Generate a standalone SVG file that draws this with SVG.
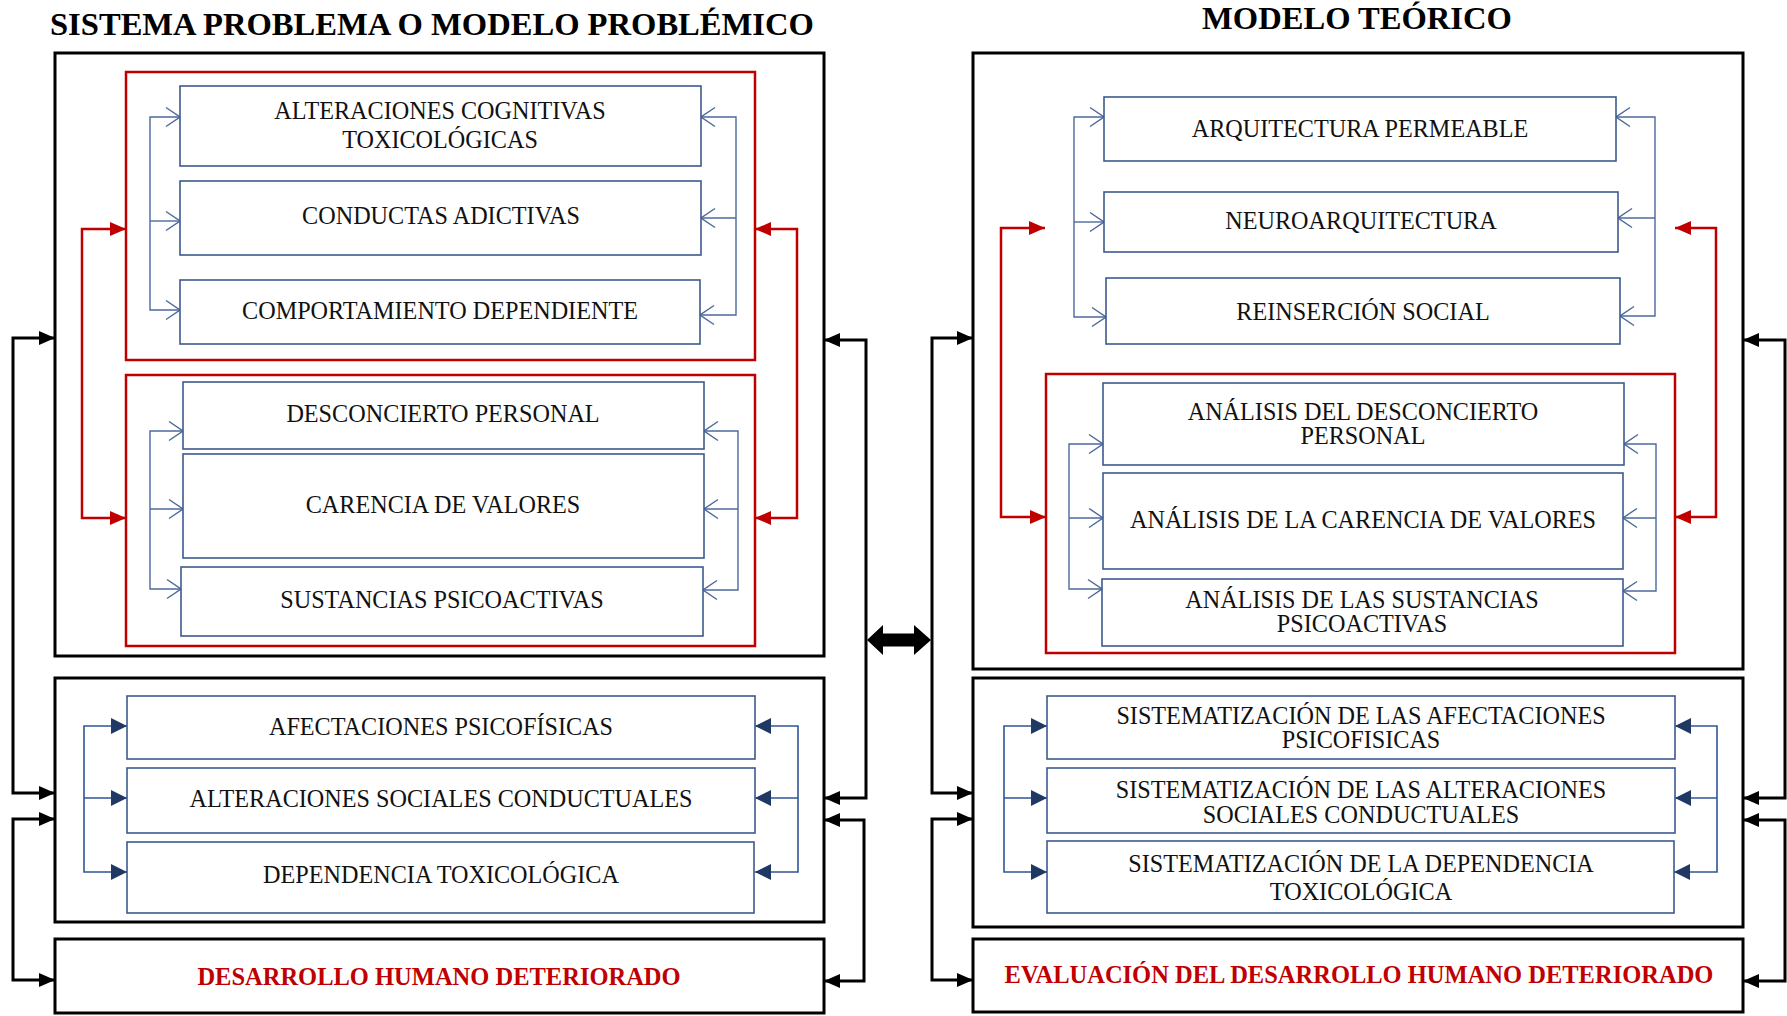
<svg xmlns="http://www.w3.org/2000/svg" width="1787" height="1016" viewBox="0 0 1787 1016">
<defs>
<style>
.bg{fill:#ffffff}
.title{font-family:"Liberation Serif","Times New Roman",serif;font-weight:bold;font-size:32.6px;fill:#000}
.t{font-family:"Liberation Serif","Times New Roman",serif;font-size:24.2px;fill:#111;text-anchor:middle}
.tr{font-family:"Liberation Serif","Times New Roman",serif;font-weight:bold;font-size:24.5px;fill:#c00000;text-anchor:middle}
.outer{fill:none;stroke:#000;stroke-width:3}
.red{fill:none;stroke:#c00000;stroke-width:2.5}
.node{fill:#fff;stroke:#3d5a8e;stroke-width:1.6}
.cb{fill:none;stroke:#4d6a9c;stroke-width:1.4}
.cbf{fill:none;stroke:#2f5597;stroke-width:1.6}
.cr{fill:none;stroke:#c00000;stroke-width:2.5}
.ck{fill:none;stroke:#000;stroke-width:3}
</style>
<marker id="mOpen" viewBox="0 0 16 22" refX="15" refY="11" markerWidth="16" markerHeight="22" markerUnits="userSpaceOnUse" orient="auto-start-reverse">
<path d="M1,1.5 L15,11 L1,20.5" fill="none" stroke="#4d6a9c" stroke-width="1.5"/>
</marker>
<marker id="mBlue" viewBox="0 0 16 16" refX="16" refY="8" markerWidth="16" markerHeight="16" markerUnits="userSpaceOnUse" orient="auto-start-reverse">
<path d="M0,0 L16,8 L0,16 z" fill="#1f3864"/>
</marker>
<marker id="mRed" viewBox="0 0 16 14" refX="16" refY="7" markerWidth="16" markerHeight="14" markerUnits="userSpaceOnUse" orient="auto-start-reverse">
<path d="M0,0 L16,7 L0,14 z" fill="#c00000"/>
</marker>
<marker id="mBlk" viewBox="0 0 16 14" refX="16" refY="7" markerWidth="16" markerHeight="14" markerUnits="userSpaceOnUse" orient="auto-start-reverse">
<path d="M0,0 L16,7 L0,14 z" fill="#000"/>
</marker>
</defs>
<rect class="bg" x="0" y="0" width="1787" height="1016"/>

<text class="title" x="50" y="35">SISTEMA PROBLEMA O MODELO PROBLÉMICO</text>
<text class="title" x="1357" y="29" text-anchor="middle">MODELO TEÓRICO</text>

<g id="containers">
<rect class="outer" x="55" y="53" width="769" height="603"/>
<rect class="red" x="126" y="72" width="629" height="288"/>
<rect class="red" x="126" y="375" width="629" height="271"/>
<rect class="outer" x="55" y="678" width="769" height="244"/>
<rect class="outer" x="973" y="53" width="770" height="616"/>
<rect class="red" x="1046" y="374" width="629" height="279"/>
<rect class="outer" x="973" y="678" width="770" height="249"/>
</g>

<g id="connectors">
<path class="cb" d="M150,221 H180" marker-end="url(#mOpen)"/>
<path class="cb" d="M180,117 H150 V310 H180" marker-start="url(#mOpen)" marker-end="url(#mOpen)"/>
<path class="cb" d="M736,218 H701" marker-end="url(#mOpen)"/>
<path class="cb" d="M701,117 H736 V315 H700" marker-start="url(#mOpen)" marker-end="url(#mOpen)"/>
<path class="cb" d="M150,509 H183" marker-end="url(#mOpen)"/>
<path class="cb" d="M183,431 H150 V589 H181" marker-start="url(#mOpen)" marker-end="url(#mOpen)"/>
<path class="cb" d="M738,509 H704" marker-end="url(#mOpen)"/>
<path class="cb" d="M704,431 H738 V590 H703" marker-start="url(#mOpen)" marker-end="url(#mOpen)"/>
<path class="cbf" d="M84,798 H127" marker-end="url(#mBlue)"/>
<path class="cbf" d="M127,726 H84 V872 H127" marker-start="url(#mBlue)" marker-end="url(#mBlue)"/>
<path class="cbf" d="M798,798 H755" marker-end="url(#mBlue)"/>
<path class="cbf" d="M755,726 H798 V872 H755" marker-start="url(#mBlue)" marker-end="url(#mBlue)"/>
<path class="cr" d="M126,229 H82 V518 H126" marker-start="url(#mRed)" marker-end="url(#mRed)"/>
<path class="cr" d="M755,229 H797 V518 H755" marker-start="url(#mRed)" marker-end="url(#mRed)"/>
<path class="ck" d="M55,338 H13 V793 H55" marker-start="url(#mBlk)" marker-end="url(#mBlk)"/>
<path class="ck" d="M55,819 H13 V980 H55" marker-start="url(#mBlk)" marker-end="url(#mBlk)"/>
<path class="ck" d="M824,340 H866 V798 H824" marker-start="url(#mBlk)" marker-end="url(#mBlk)"/>
<path class="ck" d="M824,820 H864 V981 H824" marker-start="url(#mBlk)" marker-end="url(#mBlk)"/>

<path class="cb" d="M1074,222 H1104" marker-end="url(#mOpen)"/>
<path class="cb" d="M1104,117 H1074 V317 H1106" marker-start="url(#mOpen)" marker-end="url(#mOpen)"/>
<path class="cb" d="M1655,218 H1618" marker-end="url(#mOpen)"/>
<path class="cb" d="M1616,117 H1655 V316 H1620" marker-start="url(#mOpen)" marker-end="url(#mOpen)"/>
<path class="cb" d="M1069,518 H1103" marker-end="url(#mOpen)"/>
<path class="cb" d="M1103,444 H1069 V589 H1102" marker-start="url(#mOpen)" marker-end="url(#mOpen)"/>
<path class="cb" d="M1656,518 H1623" marker-end="url(#mOpen)"/>
<path class="cb" d="M1624,444 H1656 V591 H1623" marker-start="url(#mOpen)" marker-end="url(#mOpen)"/>
<path class="cbf" d="M1004,798 H1047" marker-end="url(#mBlue)"/>
<path class="cbf" d="M1047,726 H1004 V872 H1047" marker-start="url(#mBlue)" marker-end="url(#mBlue)"/>
<path class="cbf" d="M1717,798 H1675" marker-end="url(#mBlue)"/>
<path class="cbf" d="M1675,726 H1717 V872 H1674" marker-start="url(#mBlue)" marker-end="url(#mBlue)"/>
<path class="cr" d="M1045,228 H1001 V517 H1046" marker-start="url(#mRed)" marker-end="url(#mRed)"/>
<path class="cr" d="M1675,228 H1716 V517 H1675" marker-start="url(#mRed)" marker-end="url(#mRed)"/>
<path class="ck" d="M973,338 H932 V793 H973" marker-start="url(#mBlk)" marker-end="url(#mBlk)"/>
<path class="ck" d="M973,819 H932 V980 H973" marker-start="url(#mBlk)" marker-end="url(#mBlk)"/>
<path class="ck" d="M1743,340 H1785 V798 H1743" marker-start="url(#mBlk)" marker-end="url(#mBlk)"/>
<path class="ck" d="M1743,820 H1785 V981 H1743" marker-start="url(#mBlk)" marker-end="url(#mBlk)"/>
<polygon points="867,640 883,625 883,633.5 914,633.5 914,625 931,640 914,655 914,646.5 883,646.5 883,655" fill="#000"/>
</g>

<g id="n1"><rect class="node" x="180" y="86" width="521" height="80"/><text class="t" x="440" y="119">ALTERACIONES COGNITIVAS</text><text class="t" x="440" y="148">TOXICOLÓGICAS</text></g>
<g id="n2"><rect class="node" x="180" y="181" width="521" height="74"/><text class="t" x="441" y="224">CONDUCTAS ADICTIVAS</text></g>
<g id="n3"><rect class="node" x="180" y="280" width="520" height="64"/><text class="t" x="440" y="319">COMPORTAMIENTO DEPENDIENTE</text></g>
<g id="n4"><rect class="node" x="183" y="382" width="521" height="67"/><text class="t" x="443" y="422">DESCONCIERTO PERSONAL</text></g>
<g id="n5"><rect class="node" x="183" y="454" width="521" height="104"/><text class="t" x="443" y="513">CARENCIA DE VALORES</text></g>
<g id="n6"><rect class="node" x="181" y="567" width="522" height="69"/><text class="t" x="442" y="608">SUSTANCIAS PSICOACTIVAS</text></g>
<g id="n7"><rect class="node" x="127" y="696" width="628" height="63"/><text class="t" x="441" y="735">AFECTACIONES PSICOFÍSICAS</text></g>
<g id="n8"><rect class="node" x="127" y="768" width="628" height="65"/><text class="t" x="441" y="807">ALTERACIONES SOCIALES CONDUCTUALES</text></g>
<g id="n9"><rect class="node" x="127" y="842" width="627" height="71"/><text class="t" x="441" y="883">DEPENDENCIA TOXICOLÓGICA</text></g>
<g id="n10"><rect class="outer" x="55" y="939" width="769" height="74"/><text class="tr" x="439" y="985">DESARROLLO HUMANO DETERIORADO</text></g>

<g id="m1"><rect class="node" x="1104" y="97" width="512" height="64"/><text class="t" x="1360" y="137">ARQUITECTURA PERMEABLE</text></g>
<g id="m2"><rect class="node" x="1104" y="192" width="514" height="60"/><text class="t" x="1361" y="229">NEUROARQUITECTURA</text></g>
<g id="m3"><rect class="node" x="1106" y="278" width="514" height="66"/><text class="t" x="1363" y="320">REINSERCIÓN SOCIAL</text></g>
<g id="m4"><rect class="node" x="1103" y="383" width="521" height="82"/><text class="t" x="1363" y="420">ANÁLISIS DEL DESCONCIERTO</text><text class="t" x="1363" y="444">PERSONAL</text></g>
<g id="m5"><rect class="node" x="1103" y="473" width="520" height="96"/><text class="t" x="1363" y="528">ANÁLISIS DE LA CARENCIA DE VALORES</text></g>
<g id="m6"><rect class="node" x="1102" y="579" width="521" height="67"/><text class="t" x="1362" y="608">ANÁLISIS DE LAS SUSTANCIAS</text><text class="t" x="1362" y="632">PSICOACTIVAS</text></g>
<g id="m7"><rect class="node" x="1047" y="696" width="628" height="63"/><text class="t" x="1361" y="724">SISTEMATIZACIÓN DE LAS AFECTACIONES</text><text class="t" x="1361" y="748">PSICOFISICAS</text></g>
<g id="m8"><rect class="node" x="1047" y="768" width="628" height="65"/><text class="t" x="1361" y="798">SISTEMATIZACIÓN DE LAS ALTERACIONES</text><text class="t" x="1361" y="823">SOCIALES CONDUCTUALES</text></g>
<g id="m9"><rect class="node" x="1047" y="841" width="627" height="72"/><text class="t" x="1361" y="872">SISTEMATIZACIÓN DE LA DEPENDENCIA</text><text class="t" x="1361" y="900">TOXICOLÓGICA</text></g>
<g id="m10"><rect class="outer" x="973" y="939" width="770" height="73"/><text class="tr" x="1359" y="983">EVALUACIÓN DEL DESARROLLO HUMANO DETERIORADO</text></g>
</svg>
